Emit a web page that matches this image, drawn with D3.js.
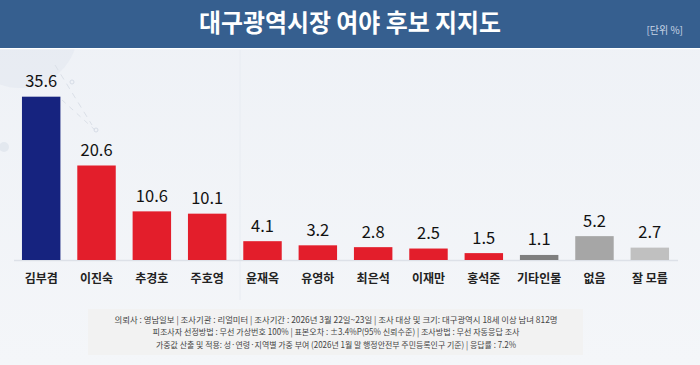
<!DOCTYPE html>
<html><head><meta charset="utf-8">
<script src="https://cdn.jsdelivr.net/npm/d3@7"></script>
<style>
html,body{margin:0;padding:0;background:#eff2f7;}
svg{display:block;}
text{font-family:"Noto Sans CJK KR","Noto Sans",sans-serif;}
</style></head>
<body>
<svg id="chart" width="700" height="365"></svg>
<script>
const categories = ["김부겸","이진숙","추경호","주호영","윤재옥","유영하","최은석","이재만","홍석준","기타인물","없음","잘 모름"];
const values = [35.6,20.6,10.6,10.1,4.1,3.2,2.8,2.5,1.5,1.1,5.2,2.7];
const colors = ["#16237f","#e31e2b","#e31e2b","#e31e2b","#e31e2b","#e31e2b","#e31e2b","#e31e2b","#e31e2b","#7f7f7f","#a6a6a6","#c0c0c0"];
const title = "대구광역시장 여야 후보 지지도";
const unitLabel = "[단위 %]";
const footnotes = [
  "의뢰사 : 영남일보 | 조사기관 : 리얼미터  |  조사기간 : 2026년 3월 22일~23일 | 조사 대상 및 크기: 대구광역시  18세 이상 남녀 812명",
  "피조사자  선정방법 : 무선 가상번호  100% | 표본오차  : ±3.4%P(95%  신뢰수준)  | 조사방법 : 무선 자동응답  조사",
  "가중값 산출 및 적용: 성·연령·지역별  가중 부여 (2026년 1월 말 행정안전부  주민등록인구  기준) | 응답률 : 7.2%"
];

const svg = d3.select("#chart");
const W = 700, H = 365;

// background
const defs = svg.append("defs");
const g1 = defs.append("linearGradient").attr("id","bg").attr("x1",0).attr("y1",0).attr("x2",0).attr("y2",1);
g1.append("stop").attr("offset","0%").attr("stop-color","#eef1f6");
g1.append("stop").attr("offset","100%").attr("stop-color","#f4f6f9");
svg.append("rect").attr("width",W).attr("height",H).attr("fill","url(#bg)");
// decorations
svg.append("circle").attr("cx",20).attr("cy",30).attr("r",58).attr("fill","#e3e8f0").attr("opacity",0.6);
svg.append("circle").attr("cx",4).attr("cy",147).attr("r",5).attr("fill","#e3e8ef");
svg.append("line").attr("x1",55).attr("y1",65).attr("x2",92).attr("y2",125).attr("stroke","#dbe0e8").attr("stroke-width",1).attr("stroke-dasharray","6 5");
svg.append("line").attr("x1",62).attr("y1",100).attr("x2",95).attr("y2",130).attr("stroke","#dbe0e8").attr("stroke-width",1).attr("stroke-dasharray","5 5");
svg.append("circle").attr("cx",72).attr("cy",82).attr("r",2).attr("fill","none").attr("stroke","#d6dce6");
svg.append("circle").attr("cx",96).attr("cy",130).attr("r",2).attr("fill","none").attr("stroke","#d6dce6");
svg.append("line").attr("x1",240).attr("y1",50).attr("x2",240).attr("y2",300).attr("stroke","#e8ecf2").attr("stroke-width",1);

// header
svg.append("rect").attr("x",0).attr("y",0).attr("width",W).attr("height",48).attr("fill","#365f8f");
svg.append("rect").attr("x",0).attr("y",48).attr("width",W).attr("height",1.2).attr("fill","#ffffff");
svg.append("text").attr("x",350).attr("y",32).attr("text-anchor","middle")
  .attr("fill","#ffffff").attr("font-size",24.5).attr("font-weight",700)
  .attr("textLength",302).attr("lengthAdjust","spacingAndGlyphs").text(title);
svg.append("text").attr("x",683).attr("y",34).attr("text-anchor","end")
  .attr("fill","#c9d5e6").attr("font-size",10).text(unitLabel);

// scales
const x = d3.scaleBand().domain(categories).range([13.5,677.5]).paddingInner(0.305).paddingOuter(0.153);
const y = d3.scaleLinear().domain([0,40]).range([260,76.5]);

// baseline
svg.append("line").attr("x1",14).attr("x2",678).attr("y1",260.5).attr("y2",260.5)
  .attr("stroke","#dde1e8").attr("stroke-width",1.5);

// bars
svg.append("g").selectAll("rect").data(values).join("rect")
  .attr("x",(d,i)=>x(categories[i]))
  .attr("width",x.bandwidth())
  .attr("y",d=>y(d))
  .attr("height",d=>y(0)-y(d))
  .attr("fill",(d,i)=>colors[i]);

// value labels
svg.append("g").selectAll("text").data(values).join("text")
  .attr("x",(d,i)=>x(categories[i])+x.bandwidth()/2)
  .attr("y",d=>y(d)-9.5)
  .attr("text-anchor","middle")
  .attr("font-family","Roboto, sans-serif")
  .attr("font-size",16.5)
  .attr("fill","#111111")
  .text(d=>d.toFixed(1));

// category axis labels
const axis = d3.axisBottom(x).tickSize(0).tickPadding(0);
const ag = svg.append("g").attr("transform","translate(0,270)").call(axis);
ag.select(".domain").remove();
ag.selectAll("text").attr("font-family","'Noto Sans CJK KR', sans-serif")
  .attr("font-size",12).attr("font-weight",700).attr("fill","#222222")
  .attr("dy","1.05em");

// footnote box
svg.append("rect").attr("x",88).attr("y",309).attr("width",495).attr("height",46).attr("fill","#f2f2f2");
const fy = [322.5,335,347.5];
const fw = [443,367,360];
svg.append("g").selectAll("text").data(footnotes).join("text")
  .attr("x",336).attr("y",(d,i)=>fy[i]).attr("text-anchor","middle")
  .attr("font-size",8.5).attr("fill","#444444")
  .attr("textLength",(d,i)=>fw[i]).attr("lengthAdjust","spacingAndGlyphs")
  .text(d=>d);
</script>
</body></html>
